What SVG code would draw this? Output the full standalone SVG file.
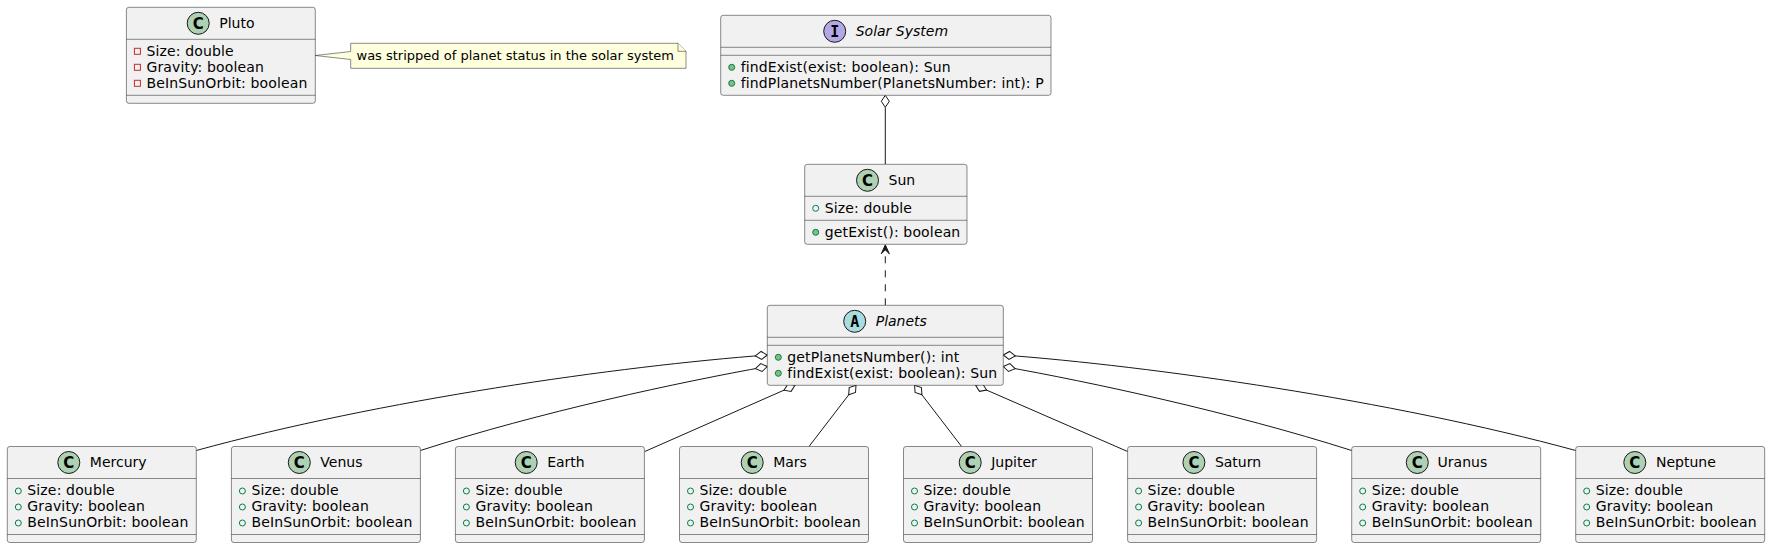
<svg xmlns="http://www.w3.org/2000/svg" width="1770" height="548" viewBox="0 0 1770 548">
<style>
.bg{fill:#FFFFFF}
.box{fill:#F1F1F1;stroke:#181818;stroke-width:0.5}
.sep{stroke:#181818;stroke-width:0.5;fill:none}
.t{font-family:'DejaVu Sans',sans-serif;font-size:14px;fill:#000000}
.m{letter-spacing:0.15px}
.it{font-style:italic}
.nt{font-family:'DejaVu Sans',sans-serif;font-size:13px;fill:#000000}
.circ{stroke:#181818;stroke-width:1}
.cC{fill:#ADD1B2}
.cI{fill:#B4A7E5}
.cA{fill:#A9DCDF}
.let{font-family:'DejaVu Sans',sans-serif;font-weight:bold;font-size:15px;fill:#000000;text-anchor:middle}
.letm{font-family:'DejaVu Sans Mono',monospace;font-weight:bold;font-size:15px;fill:#000000;text-anchor:middle}
.pubf{fill:none;stroke:#038048;stroke-width:1}
.pubm{fill:#84BE84;stroke:#038048;stroke-width:1}
.priv{fill:none;stroke:#C82930;stroke-width:1}
.edge{fill:none;stroke:#181818;stroke-width:1}
.dash{stroke-dasharray:7,7}
.note{fill:#FEFFDD;stroke:#181818;stroke-width:0.5}
.dia{fill:#FFFFFF;stroke:#181818;stroke-width:1}
</style>
<defs>
<marker id="diamond" markerUnits="userSpaceOnUse" markerWidth="14" markerHeight="10" refX="0" refY="5" viewBox="0 0 14 10" orient="auto" overflow="visible">
<path d="M0,5 L6,1 L12,5 L6,9 Z" class="dia"/>
</marker>
</defs>
<rect class="bg" x="0" y="0" width="1770" height="548"/>

<g id="connectors">
<line class="edge" x1="885.3" y1="107.3" x2="885.3" y2="164.3"/>
<polygon class="dia" points="885.3,95.3 881.3,101.3 885.3,107.3 889.3,101.3"/>
<line class="edge dash" x1="885.3" y1="305.3" x2="885.3" y2="247"/>
<polygon fill="#181818" stroke="#181818" stroke-width="1" points="885.3,244.8 881.3,253.8 885.3,249.8 889.3,253.8"/>
<path class="edge" marker-start="url(#diamond)" d="M767.3,355 C620,366 380,400 196.3,450.5"/>
<path class="edge" marker-start="url(#diamond)" d="M767.3,366.5 C680,382 540,412 420.4,450.5"/>
<path class="edge" marker-start="url(#diamond)" d="M795,385.3 L644.8,451.5"/>
<path class="edge" marker-start="url(#diamond)" d="M856,385.3 L809,446.5"/>
<path class="edge" marker-start="url(#diamond)" d="M914.6,385.3 L961.6,446.5"/>
<path class="edge" marker-start="url(#diamond)" d="M975.6,385.3 L1127.6,451.5"/>
<path class="edge" marker-start="url(#diamond)" d="M1003.3,366.5 C1090.6,382 1230.6,412 1351.7,450.5"/>
<path class="edge" marker-start="url(#diamond)" d="M1003.3,355 C1150.6,366 1390.6,400 1575.7,450.5"/>
</g>

<g id="pluto">
<rect class="box" x="126.4" y="7.3" width="188.9" height="96" rx="2.5"/>
<line class="sep" x1="126.4" y1="39.3" x2="315.3" y2="39.3"/>
<line class="sep" x1="126.4" y1="95.3" x2="315.3" y2="95.3"/>
<circle class="circ cC" cx="198.2" cy="23.3" r="11"/>
<text class="let" x="198.2" y="28.6">C</text>
<text class="t" x="219.2" y="28">Pluto</text>
<rect class="priv" x="134.4" y="48.3" width="6" height="6"/>
<text class="t m" x="146.4" y="55.8">Size: double</text>
<rect class="priv" x="134.4" y="64.3" width="6" height="6"/>
<text class="t m" x="146.4" y="71.8">Gravity: boolean</text>
<rect class="priv" x="134.4" y="80.3" width="6" height="6"/>
<text class="t m" x="146.4" y="87.8">BeInSunOrbit: boolean</text>
</g>

<g id="note">
<path class="note" d="M350.7,43.3 L350.7,51.5 L315.3,55.5 L350.7,59.5 L350.7,68.3 L686,68.3 L686,51.3 L678,43.3 Z"/>
<path class="note" d="M678,43.3 L678,51.3 L686,51.3"/>
<text class="nt" x="356.5" y="60">was stripped of planet status in the solar system</text>
</g>

<g id="solar-system">
<rect class="box" x="720.7" y="15.3" width="330.3" height="80" rx="2.5"/>
<line class="sep" x1="720.7" y1="47.3" x2="1051" y2="47.3"/>
<line class="sep" x1="720.7" y1="55.3" x2="1051" y2="55.3"/>
<circle class="circ cI" cx="834.7" cy="31.3" r="11"/>
<text class="letm" x="834.7" y="36.6">I</text>
<text class="t it" x="855.7" y="35.5">Solar System</text>
<circle class="pubm" cx="731.7" cy="67.3" r="3"/>
<text class="t m" x="740.7" y="71.5">findExist(exist: boolean): Sun</text>
<circle class="pubm" cx="731.7" cy="83.3" r="3"/>
<text class="t m" x="740.7" y="87.5">findPlanetsNumber(PlanetsNumber: int): P</text>
</g>

<g id="sun">
<rect class="box" x="804.7" y="164.3" width="162.3" height="80" rx="2.5"/>
<line class="sep" x1="804.7" y1="196.3" x2="967" y2="196.3"/>
<line class="sep" x1="804.7" y1="220.3" x2="967" y2="220.3"/>
<circle class="circ cC" cx="867.5" cy="180.3" r="11"/>
<text class="let" x="867.5" y="185.6">C</text>
<text class="t" x="888.5" y="185">Sun</text>
<circle class="pubf" cx="815.7" cy="208.3" r="3"/>
<text class="t m" x="824.7" y="212.5">Size: double</text>
<circle class="pubm" cx="815.7" cy="232.3" r="3"/>
<text class="t m" x="824.7" y="236.5">getExist(): boolean</text>
</g>

<g id="planets">
<rect class="box" x="767.3" y="305.3" width="236" height="80" rx="2.5"/>
<line class="sep" x1="767.3" y1="337.3" x2="1003.3" y2="337.3"/>
<line class="sep" x1="767.3" y1="345.3" x2="1003.3" y2="345.3"/>
<circle class="circ cA" cx="854.7" cy="321.3" r="11"/>
<text class="letm" x="854.7" y="326.6">A</text>
<text class="t it" x="875.7" y="325.5">Planets</text>
<circle class="pubm" cx="778.3" cy="357.3" r="3"/>
<text class="t m" x="787.3" y="361.5">getPlanetsNumber(): int</text>
<circle class="pubm" cx="778.3" cy="373.3" r="3"/>
<text class="t m" x="787.3" y="377.5">findExist(exist: boolean): Sun</text>
</g>

<g id="mercury">
<rect class="box" x="7.3" y="446.5" width="189" height="96" rx="2.5"/>
<line class="sep" x1="7.3" y1="478.5" x2="196.3" y2="478.5"/>
<line class="sep" x1="7.3" y1="534.5" x2="196.3" y2="534.5"/>
<circle class="circ cC" cx="68.8" cy="462.5" r="11"/>
<text class="let" x="68.8" y="467.8">C</text>
<text class="t" x="89.8" y="467">Mercury</text>
<circle class="pubf" cx="18.3" cy="491" r="3"/><text class="t m" x="27.3" y="495">Size: double</text>
<circle class="pubf" cx="18.3" cy="507" r="3"/><text class="t m" x="27.3" y="511">Gravity: boolean</text>
<circle class="pubf" cx="18.3" cy="523" r="3"/><text class="t m" x="27.3" y="527">BeInSunOrbit: boolean</text>
</g>

<g id="venus">
<rect class="box" x="231.4" y="446.5" width="189" height="96" rx="2.5"/>
<line class="sep" x1="231.4" y1="478.5" x2="420.4" y2="478.5"/>
<line class="sep" x1="231.4" y1="534.5" x2="420.4" y2="534.5"/>
<circle class="circ cC" cx="299.3" cy="462.5" r="11"/>
<text class="let" x="299.3" y="467.8">C</text>
<text class="t" x="320.3" y="467">Venus</text>
<circle class="pubf" cx="242.4" cy="491" r="3"/><text class="t m" x="251.4" y="495">Size: double</text>
<circle class="pubf" cx="242.4" cy="507" r="3"/><text class="t m" x="251.4" y="511">Gravity: boolean</text>
<circle class="pubf" cx="242.4" cy="523" r="3"/><text class="t m" x="251.4" y="527">BeInSunOrbit: boolean</text>
</g>

<g id="earth">
<rect class="box" x="455.4" y="446.5" width="189" height="96" rx="2.5"/>
<line class="sep" x1="455.4" y1="478.5" x2="644.4" y2="478.5"/>
<line class="sep" x1="455.4" y1="534.5" x2="644.4" y2="534.5"/>
<circle class="circ cC" cx="526.2" cy="462.5" r="11"/>
<text class="let" x="526.2" y="467.8">C</text>
<text class="t" x="547.2" y="467">Earth</text>
<circle class="pubf" cx="466.4" cy="491" r="3"/><text class="t m" x="475.4" y="495">Size: double</text>
<circle class="pubf" cx="466.4" cy="507" r="3"/><text class="t m" x="475.4" y="511">Gravity: boolean</text>
<circle class="pubf" cx="466.4" cy="523" r="3"/><text class="t m" x="475.4" y="527">BeInSunOrbit: boolean</text>
</g>

<g id="mars">
<rect class="box" x="679.5" y="446.5" width="189" height="96" rx="2.5"/>
<line class="sep" x1="679.5" y1="478.5" x2="868.5" y2="478.5"/>
<line class="sep" x1="679.5" y1="534.5" x2="868.5" y2="534.5"/>
<circle class="circ cC" cx="752.2" cy="462.5" r="11"/>
<text class="let" x="752.2" y="467.8">C</text>
<text class="t" x="773.2" y="467">Mars</text>
<circle class="pubf" cx="690.5" cy="491" r="3"/><text class="t m" x="699.5" y="495">Size: double</text>
<circle class="pubf" cx="690.5" cy="507" r="3"/><text class="t m" x="699.5" y="511">Gravity: boolean</text>
<circle class="pubf" cx="690.5" cy="523" r="3"/><text class="t m" x="699.5" y="527">BeInSunOrbit: boolean</text>
</g>

<g id="jupiter">
<rect class="box" x="903.5" y="446.5" width="189" height="96" rx="2.5"/>
<line class="sep" x1="903.5" y1="478.5" x2="1092.5" y2="478.5"/>
<line class="sep" x1="903.5" y1="534.5" x2="1092.5" y2="534.5"/>
<circle class="circ cC" cx="970.2" cy="462.5" r="11"/>
<text class="let" x="970.2" y="467.8">C</text>
<text class="t" x="991.2" y="467">Jupiter</text>
<circle class="pubf" cx="914.5" cy="491" r="3"/><text class="t m" x="923.5" y="495">Size: double</text>
<circle class="pubf" cx="914.5" cy="507" r="3"/><text class="t m" x="923.5" y="511">Gravity: boolean</text>
<circle class="pubf" cx="914.5" cy="523" r="3"/><text class="t m" x="923.5" y="527">BeInSunOrbit: boolean</text>
</g>

<g id="saturn">
<rect class="box" x="1127.6" y="446.5" width="189" height="96" rx="2.5"/>
<line class="sep" x1="1127.6" y1="478.5" x2="1316.6" y2="478.5"/>
<line class="sep" x1="1127.6" y1="534.5" x2="1316.6" y2="534.5"/>
<circle class="circ cC" cx="1193.9" cy="462.5" r="11"/>
<text class="let" x="1193.9" y="467.8">C</text>
<text class="t" x="1214.9" y="467">Saturn</text>
<circle class="pubf" cx="1138.6" cy="491" r="3"/><text class="t m" x="1147.6" y="495">Size: double</text>
<circle class="pubf" cx="1138.6" cy="507" r="3"/><text class="t m" x="1147.6" y="511">Gravity: boolean</text>
<circle class="pubf" cx="1138.6" cy="523" r="3"/><text class="t m" x="1147.6" y="527">BeInSunOrbit: boolean</text>
</g>

<g id="uranus">
<rect class="box" x="1351.7" y="446.5" width="189" height="96" rx="2.5"/>
<line class="sep" x1="1351.7" y1="478.5" x2="1540.7" y2="478.5"/>
<line class="sep" x1="1351.7" y1="534.5" x2="1540.7" y2="534.5"/>
<circle class="circ cC" cx="1417.3" cy="462.5" r="11"/>
<text class="let" x="1417.3" y="467.8">C</text>
<text class="t" x="1437.6" y="467">Uranus</text>
<circle class="pubf" cx="1362.7" cy="491" r="3"/><text class="t m" x="1371.7" y="495">Size: double</text>
<circle class="pubf" cx="1362.7" cy="507" r="3"/><text class="t m" x="1371.7" y="511">Gravity: boolean</text>
<circle class="pubf" cx="1362.7" cy="523" r="3"/><text class="t m" x="1371.7" y="527">BeInSunOrbit: boolean</text>
</g>

<g id="neptune">
<rect class="box" x="1575.7" y="446.5" width="189" height="96" rx="2.5"/>
<line class="sep" x1="1575.7" y1="478.5" x2="1764.7" y2="478.5"/>
<line class="sep" x1="1575.7" y1="534.5" x2="1764.7" y2="534.5"/>
<circle class="circ cC" cx="1634.8" cy="462.5" r="11"/>
<text class="let" x="1634.8" y="467.8">C</text>
<text class="t" x="1656" y="467">Neptune</text>
<circle class="pubf" cx="1586.7" cy="491" r="3"/><text class="t m" x="1595.7" y="495">Size: double</text>
<circle class="pubf" cx="1586.7" cy="507" r="3"/><text class="t m" x="1595.7" y="511">Gravity: boolean</text>
<circle class="pubf" cx="1586.7" cy="523" r="3"/><text class="t m" x="1595.7" y="527">BeInSunOrbit: boolean</text>
</g>
</svg>
